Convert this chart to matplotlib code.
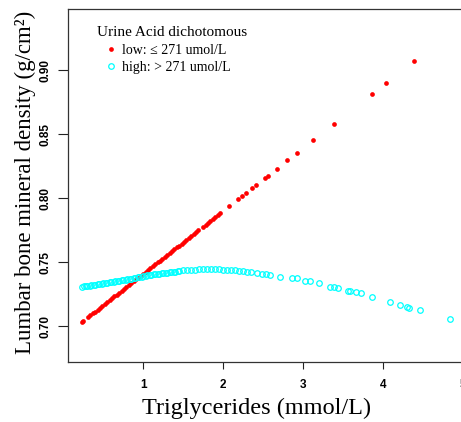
import matplotlib
matplotlib.use("Agg")
import matplotlib.pyplot as plt
from matplotlib.lines import Line2D

# Urine acid low group (<= 271 umol/L)
low_tg = [0.23, 0.25, 0.31, 0.34, 0.37, 0.40, 0.43, 0.46, 0.49, 0.52, 0.55, 0.58,
          0.61, 0.64, 0.67, 0.70, 0.73, 0.76, 0.79, 0.82, 0.85, 0.88, 0.91, 0.94,
          0.97, 1.00, 1.03, 1.06, 1.09, 1.12, 1.15, 1.18, 1.21, 1.24, 1.27, 1.30,
          1.33, 1.36, 1.39, 1.42, 1.45, 1.48, 1.51, 1.54, 1.57, 1.60, 1.63, 1.66,
          1.69, 1.75, 1.78, 1.81, 1.84, 1.87, 1.90, 1.93, 1.96, 2.07, 2.18, 2.23,
          2.29, 2.36, 2.41, 2.52, 2.56, 2.67, 2.80, 2.92, 3.12, 3.38, 3.86, 4.03, 4.38]
low_bmd = [0.7029, 0.7039, 0.7069, 0.7083, 0.7098, 0.7113, 0.7128, 0.7142, 0.7157,
           0.7172, 0.7187, 0.7201, 0.7216, 0.7231, 0.7246, 0.7260, 0.7275, 0.7290,
           0.7305, 0.7319, 0.7334, 0.7349, 0.7364, 0.7378, 0.7393, 0.7408, 0.7423,
           0.7438, 0.7452, 0.7467, 0.7482, 0.7497, 0.7511, 0.7526, 0.7541, 0.7556,
           0.7570, 0.7585, 0.7600, 0.7615, 0.7629, 0.7644, 0.7659, 0.7674, 0.7688,
           0.7703, 0.7718, 0.7733, 0.7747, 0.7777, 0.7792, 0.7807, 0.7821, 0.7836,
           0.7851, 0.7866, 0.7880, 0.7934, 0.7989, 0.8013, 0.8043, 0.8077, 0.8102,
           0.8156, 0.8176, 0.8230, 0.8294, 0.8353, 0.8451, 0.8579, 0.8815, 0.8899, 0.9071]

# Urine acid high group (> 271 umol/L)
high_tg = [0.24, 0.26, 0.28, 0.30, 0.33, 0.35, 0.38, 0.40, 0.43, 0.45, 0.48, 0.50,
           0.53, 0.55, 0.58, 0.60, 0.63, 0.65, 0.68, 0.70, 0.73, 0.75, 0.78, 0.80,
           0.83, 0.85, 0.88, 0.90, 0.93, 0.95, 0.98, 1.00, 1.03, 1.05, 1.08, 1.10,
           1.13, 1.15, 1.18, 1.20, 1.23, 1.25, 1.28, 1.30, 1.33, 1.35, 1.38, 1.40,
           1.43, 1.45, 1.50, 1.55, 1.60, 1.65, 1.70, 1.75, 1.80, 1.85, 1.90, 1.95,
           2.00, 2.05, 2.10, 2.15, 2.20, 2.25, 2.30, 2.35, 2.42, 2.48, 2.54, 2.58,
           2.71, 2.86, 2.92, 3.02, 3.08, 3.20, 3.33, 3.38, 3.44, 3.56, 3.58, 3.66,
           3.72, 3.86, 4.09, 4.21, 4.30, 4.32, 4.46, 4.83]
high_bmd = [0.7307, 0.7309, 0.7311, 0.7313, 0.7316, 0.7318, 0.7321, 0.7323, 0.7326,
            0.7328, 0.7331, 0.7333, 0.7336, 0.7338, 0.7341, 0.7343, 0.7346, 0.7348,
            0.7351, 0.7353, 0.7356, 0.7358, 0.7361, 0.7364, 0.7368, 0.7371, 0.7375,
            0.7378, 0.7381, 0.7384, 0.7387, 0.7390, 0.7393, 0.7395, 0.7398, 0.7400,
            0.7403, 0.7405, 0.7408, 0.7410, 0.7412, 0.7414, 0.7416, 0.7418, 0.7420,
            0.7422, 0.7424, 0.7426, 0.7428, 0.7430, 0.7434, 0.7437, 0.7439, 0.7441,
            0.7442, 0.7443, 0.7443, 0.7443, 0.7442, 0.7442, 0.7441, 0.7440, 0.7438,
            0.7435, 0.7432, 0.7428, 0.7424, 0.7420, 0.7414, 0.7408, 0.7404, 0.7401,
            0.7385, 0.7377, 0.7373, 0.7354, 0.7349, 0.7334, 0.7307, 0.7305, 0.7297,
            0.7276, 0.7274, 0.7263, 0.7258, 0.7229, 0.7190, 0.7164, 0.7146, 0.7143,
            0.7125, 0.7055]

xticks = [1, 2, 3, 4, 5]
yticks = [0.70, 0.75, 0.80, 0.85, 0.90]
ytick_labels = ["0.70", "0.75", "0.80", "0.85", "0.90"]

W, H = 461, 422
fig = plt.figure(figsize=(W / 100, H / 100), dpi=100)
# axes runs past the right edge, the reference is cropped there
ax = fig.add_axes([68 / W, 1 - 362 / H, (490 - 68) / W, (362 - 9) / H])

ax.plot(low_tg, low_bmd, linestyle="none", marker="o", markersize=3.4,
        color="#FF0000", markeredgewidth=0, clip_on=False)
ax.plot(high_tg, high_bmd, linestyle="none", marker="o", markersize=4.0,
        markerfacecolor="none", markeredgecolor="#00FFFF", markeredgewidth=0.9,
        clip_on=False)

ax.set_xlim(0.059, 5.334)
ax.set_ylim(0.6719, 0.9477)
ax.set_xticks(xticks)
ax.set_yticks(yticks)
ax.set_yticklabels(ytick_labels, rotation=90, va="center")

for lab in ax.get_xticklabels() + ax.get_yticklabels():
    lab.set_fontfamily("Liberation Sans")
    lab.set_fontweight("bold")
    lab.set_fontsize(8.5)

ax.tick_params(axis="x", length=5, width=0.8, pad=7, colors="#222222", labelcolor="black")
ax.tick_params(axis="y", length=7, width=0.8, pad=5, colors="#222222", labelcolor="black")

ax.spines["right"].set_visible(False)
for s in ["left", "top", "bottom"]:
    ax.spines[s].set_linewidth(0.9)
    ax.spines[s].set_color("#333333")

fig.text(257 / W, 1 - 408 / H, "Triglycerides (mmol/L)",
         family="Liberation Serif", fontsize=17.5, ha="center", va="center")
fig.text(25 / W, 1 - 182 / H, "Lumbar bone mineral density (g/cm²)",
         family="Liberation Serif", fontsize=16.5, ha="center", va="center",
         rotation=90)

# legend
fig.text(97 / W, 1 - 32 / H, "Urine Acid dichotomous", family="Liberation Serif",
         fontsize=11, ha="left", va="center")
handles = [
    Line2D([], [], linestyle="none", marker="o", markersize=3.4, color="#FF0000",
           markeredgewidth=0),
    Line2D([], [], linestyle="none", marker="o", markersize=4.0,
           markerfacecolor="none", markeredgecolor="#00FFFF", markeredgewidth=0.9),
]
leg = ax.legend(handles, ["low: ≤ 271 umol/L", "high: > 271 umol/L"],
                loc="upper left", bbox_to_anchor=(104 / W, 1 - 44 / H),
                bbox_transform=fig.transFigure, frameon=False,
                prop={"family": "Liberation Serif", "size": 10},
                handlelength=1.0, handletextpad=0.3, labelspacing=0.3,
                borderpad=0, borderaxespad=0)

fig.savefig("out.png", dpi=100)
